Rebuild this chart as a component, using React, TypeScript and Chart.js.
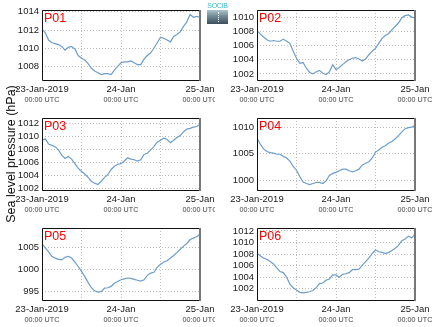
import React, { useEffect, useRef } from 'react';
import { Chart, registerables } from 'chart.js';
Chart.register(...registerables);

// hours since 23-Jan-2019 00:00 UTC
const HOURS = [0,1,2,3,4,5,6,7,8,9,10,11,12,13,14,15,16,17,18,19,20,21,22,23,24,25,26,27,28,29,30,31,32,33,34,35,36,37,38,39,40,41,42,43,44,45,46,47,48];

const P01 = [1012.1,1011.7,1010.9,1010.6,1010.5,1010.4,1010.2,1009.8,1010.1,1010.2,1009.9,1009.2,1008.9,1008.7,1008.3,1007.8,1007.5,1007.3,1007.1,1007.2,1007.2,1007.1,1007.6,1008.0,1008.4,1008.5,1008.5,1008.6,1008.4,1008.2,1008.2,1008.8,1009.2,1009.5,1010.0,1010.6,1011.2,1011.1,1010.9,1010.7,1011.3,1011.5,1011.8,1012.4,1012.9,1013.7,1013.4,1013.5,1013.4];
const P02 = [1008.1,1007.6,1007.2,1006.8,1006.6,1006.7,1006.6,1006.6,1006.9,1006.6,1006.3,1005.2,1004.2,1003.5,1003.6,1002.8,1002.2,1002.0,1002.3,1002.5,1002.1,1001.9,1002.3,1003.3,1002.6,1002.9,1003.3,1003.7,1004.0,1004.2,1004.3,1004.1,1003.8,1004.1,1004.7,1005.2,1005.6,1006.3,1007.0,1007.4,1007.7,1008.2,1008.7,1009.2,1009.9,1010.2,1010.3,1010.0,1009.9];
const P03 = [1009.4,1009.6,1008.8,1008.6,1008.4,1007.9,1007.1,1006.6,1006.9,1006.5,1005.8,1005.1,1004.6,1004.2,1003.7,1003.1,1002.8,1002.6,1003.1,1003.7,1004.1,1004.9,1005.4,1005.7,1005.8,1006.2,1006.7,1006.5,1006.4,1006.2,1006.4,1007.2,1007.4,1007.9,1008.4,1009.1,1009.4,1009.7,1009.5,1009.0,1009.4,1009.8,1010.1,1010.7,1011.1,1011.2,1011.4,1011.5,1011.8];
const P04 = [1007.9,1006.8,1005.9,1005.4,1005.2,1005.1,1004.9,1004.9,1004.5,1004.2,1003.6,1002.6,1001.9,1000.7,999.7,999.4,999.2,999.4,999.6,999.6,999.4,999.9,1000.9,1001.3,1001.5,1001.8,1002.1,1002.1,1001.8,1001.6,1001.8,1002.1,1002.9,1003.2,1003.5,1004.2,1005.3,1005.7,1006.2,1006.5,1007.0,1007.3,1007.8,1008.4,1009.1,1009.7,1009.9,1010.0,1010.3];
const P05 = [1005.7,1004.8,1003.9,1002.9,1002.5,1002.2,1002.1,1002.7,1002.9,1002.5,1001.6,1000.6,999.5,998.3,997.0,995.8,995.1,994.8,994.9,995.7,995.8,996.1,996.8,997.2,997.6,997.8,998.0,997.9,997.7,997.5,997.3,997.6,998.6,999.1,999.3,1000.4,1001.1,1001.6,1001.9,1002.5,1003.1,1003.8,1004.5,1005.2,1005.8,1006.7,1007.0,1007.3,1008.0];
const P06 = [1008.1,1007.7,1007.3,1007.1,1006.7,1006.3,1005.6,1005.0,1004.8,1004.0,1002.8,1002.2,1001.8,1001.4,1001.3,1001.4,1001.5,1001.7,1002.2,1002.9,1003.0,1003.5,1003.7,1004.4,1004.4,1004.0,1004.5,1004.6,1004.8,1005.3,1005.3,1005.4,1006.1,1006.7,1007.3,1008.1,1008.7,1008.4,1008.3,1008.1,1008.3,1008.6,1009.0,1009.5,1010.3,1010.6,1011.1,1010.8,1011.4];

const X_GRID_HOURS = [0, 12, 24, 36, 48];
const X_LABEL_HOURS = [0, 24, 48];
const X_TICK_LABELS: Record<number, string> = { 0: '23-Jan-2019', 24: '24-Jan', 48: '25-Jan' };
const X_SUB_LABEL = '00:00 UTC';

const Y_TICKS_P01 = [1008, 1010, 1012, 1014];
const Y_TICKS_P02 = [1002, 1004, 1006, 1008, 1010];
const Y_TICKS_P03 = [1002, 1004, 1006, 1008, 1010, 1012];
const Y_TICKS_P04 = [1000, 1005, 1010];
const Y_TICKS_P05 = [995, 1000, 1005];
const Y_TICKS_P06 = [1002, 1004, 1006, 1008, 1010, 1012];

const Y_AXIS_TITLE = 'Sea level pressure (hPa)';
const LOGO_TEXT = 'SOCIB';

const FONT = '"Liberation Sans", Arial, Helvetica, sans-serif';

type PanelProps = {
  name: string;
  values: number[];
  yMin: number;
  yMax: number;
  yTicks: number[];
  left: number;
  top: number;
  plotH: number;
  canvasW: number;
};

const PLOT_W = 158;
const Y_AXIS_W = 42;
const PAD_TOP = 10;
const X1_H = 13;
const X2_H = 16;
const GRID_COLOR = '#bdbdbd';
const GRID_DASH = [1, 2];

function Panel({ name, values, yMin, yMax, yTicks, left, top, plotH, canvasW }: PanelProps) {
  const ref = useRef<HTMLCanvasElement | null>(null);
  const canvasH = PAD_TOP + plotH + X1_H + X2_H;
  useEffect(() => {
    if (!ref.current) return;
    const zeroPad = (s: any) => {
      s.paddingLeft = 0; s.paddingRight = 0; s.paddingTop = 0; s.paddingBottom = 0;
    };
    const framePlugin = {
      id: 'frame',
      afterDatasetsDraw(chart: any) {
        const { ctx, chartArea: a } = chart;
        ctx.save();
        ctx.setLineDash([]);
        ctx.strokeStyle = '#111';
        ctx.lineWidth = 1;
        ctx.beginPath();
        ctx.moveTo(a.right, a.top + 0.5);
        ctx.lineTo(a.left + 0.5, a.top + 0.5);
        ctx.lineTo(a.left + 0.5, a.bottom - 0.5);
        ctx.lineTo(a.right, a.bottom - 0.5);
        ctx.stroke();
        ctx.strokeStyle = '#777';
        ctx.lineWidth = 2;
        ctx.beginPath();
        ctx.moveTo(a.right, a.top);
        ctx.lineTo(a.right, a.bottom);
        ctx.stroke();
        ctx.fillStyle = '#ff0000';
        ctx.font = `12.5px ${FONT}`;
        ctx.textBaseline = 'top';
        ctx.textAlign = 'left';
        ctx.fillText(name, a.left + 2, a.top + 2);
        ctx.restore();
      },
    };
    const chart = new Chart(ref.current, {
      type: 'line',
      data: {
        datasets: [
          {
            data: HOURS.map((h, i) => ({ x: h, y: values[i] })),
            borderColor: '#6d9dcb',
            borderWidth: 1.2,
            pointRadius: 0,
            tension: 0,
            fill: false,
          },
        ],
      },
      options: {
        animation: false,
        responsive: false,
        devicePixelRatio: 1,
        events: [],
        layout: { padding: { left: 0, top: PAD_TOP, right: canvasW - Y_AXIS_W - PLOT_W, bottom: 0 } },
        plugins: { legend: { display: false }, tooltip: { enabled: false }, title: { display: false } },
        scales: {
          x: {
            type: 'linear',
            position: 'bottom',
            min: 0,
            max: 48,
            afterBuildTicks: (s: any) => { s.ticks = X_GRID_HOURS.map((v) => ({ value: v })); },
            afterFit: (s: any) => { s.height = X1_H; zeroPad(s); },
            grid: { color: GRID_COLOR, lineWidth: 1, drawTicks: false },
            border: { display: false, dash: GRID_DASH },
            ticks: {
              autoSkip: false,
              maxRotation: 0,
              padding: 3,
              color: '#1a1a1a',
              font: { family: FONT, size: 9.5 },
              callback: (v: any) => X_TICK_LABELS[Number(v)] ?? '',
            },
          },
          x2: {
            type: 'linear',
            position: 'bottom',
            min: 0,
            max: 48,
            afterBuildTicks: (s: any) => { s.ticks = X_LABEL_HOURS.map((v) => ({ value: v })); },
            afterFit: (s: any) => { s.height = X2_H; zeroPad(s); },
            grid: { display: false, drawTicks: false },
            border: { display: false },
            ticks: {
              autoSkip: false,
              maxRotation: 0,
              padding: 2,
              color: '#444',
              font: { family: FONT, size: 7.2 },
              callback: () => X_SUB_LABEL,
            },
          },
          y: {
            type: 'linear',
            min: yMin,
            max: yMax,
            afterBuildTicks: (s: any) => { s.ticks = yTicks.map((v) => ({ value: v })); },
            afterFit: (s: any) => { s.width = Y_AXIS_W; zeroPad(s); },
            grid: { color: GRID_COLOR, lineWidth: 1, drawTicks: false },
            border: { display: false, dash: GRID_DASH },
            ticks: {
              padding: 3,
              color: '#1a1a1a',
              font: { family: FONT, size: 9.5 },
              callback: (v: any) => String(v),
            },
          },
        },
      } as any,
      plugins: [framePlugin],
    });
    return () => chart.destroy();
  }, [name, values, yMin, yMax, yTicks, left, top, plotH, canvasW]);
  return (
    <canvas
      ref={ref}
      width={canvasW}
      height={canvasH}
      style={{ position: 'absolute', left, top: top - PAD_TOP, width: canvasW, height: canvasH }}
    />
  );
}

export default function App() {
  return (
    <div style={{ position: 'absolute', left: 0, top: 0, width: 435, height: 327, background: '#fff', overflow: 'hidden', fontFamily: FONT }}>
      <Panel name="P01" values={P01} yMin={1006.4} yMax={1014.2} yTicks={Y_TICKS_P01} left={0} top={10} plotH={71} canvasW={215} />
      <Panel name="P02" values={P02} yMin={1001.0} yMax={1011.0} yTicks={Y_TICKS_P02} left={215} top={10} plotH={71} canvasW={220} />
      <Panel name="P03" values={P03} yMin={1001.6} yMax={1012.8} yTicks={Y_TICKS_P03} left={0} top={118} plotH={73} canvasW={215} />
      <Panel name="P04" values={P04} yMin={998.0} yMax={1011.7} yTicks={Y_TICKS_P04} left={215} top={118} plotH={73} canvasW={220} />
      <Panel name="P05" values={P05} yMin={992.8} yMax={1009.3} yTicks={Y_TICKS_P05} left={0} top={228} plotH={73} canvasW={215} />
      <Panel name="P06" values={P06} yMin={999.9} yMax={1012.5} yTicks={Y_TICKS_P06} left={215} top={228} plotH={73} canvasW={220} />
      <div
        style={{
          position: 'absolute',
          left: 11 - 100,
          top: 154 - 8,
          width: 200,
          height: 16,
          lineHeight: '16px',
          textAlign: 'center',
          fontSize: 12.5,
          color: '#111',
          transform: 'rotate(-90deg)',
          whiteSpace: 'nowrap',
        }}
      >
        {Y_AXIS_TITLE}
      </div>
      <div style={{ position: 'absolute', left: 206, top: 2, width: 23, textAlign: 'center', fontSize: 7, lineHeight: '8px', color: '#3ab8c8', letterSpacing: -0.3 }}>
        {LOGO_TEXT}
      </div>
      <div
        style={{
          position: 'absolute',
          left: 207,
          top: 10,
          width: 21,
          height: 14,
          background: 'linear-gradient(to bottom, #a9c4cc 0%, #6f8a96 45%, #3d4e5a 100%)',
        }}
      >
        <div style={{ position: 'absolute', left: 11, top: 2, width: 0, height: 10, borderLeft: '1px dotted #fff' }} />
      </div>
    </div>
  );
}
